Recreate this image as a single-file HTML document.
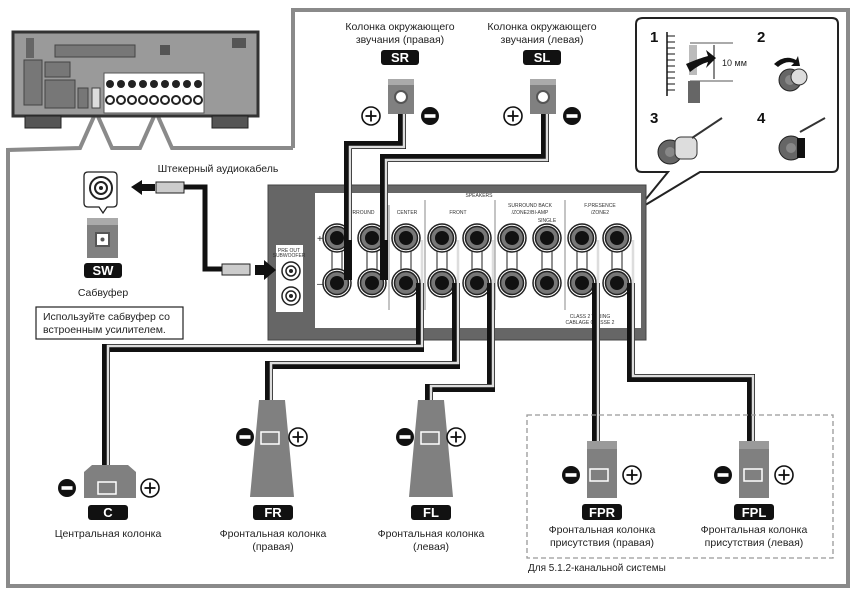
<!DOCTYPE html>
<html><head><meta charset="utf-8"><style>
html,body{margin:0;padding:0;background:#fff;}
svg{display:block;}
text{font-family:"Liberation Sans","DejaVu Sans",sans-serif;}
.lbl{font-size:10.5px;fill:#222;text-anchor:middle;}
.tag{font-size:13px;font-weight:bold;fill:#fff;text-anchor:middle;}
.sm{font-size:5px;fill:#333;text-anchor:middle;}
</style></head><body>
<svg width="857" height="592" viewBox="0 0 857 592" xmlns="http://www.w3.org/2000/svg">
<defs>
<g id="term">
<circle r="14" fill="#fff" stroke="#222" stroke-width="1.5"/>
<circle r="11.5" fill="#777" stroke="#222" stroke-width="1.5"/>
<circle r="7" fill="#111"/>
</g>
<g id="minus"><circle r="9" fill="#111"/><rect x="-5.5" y="-1.8" width="11" height="3.6" fill="#fff"/></g>
<g id="plus"><circle r="9" fill="#fff" stroke="#111" stroke-width="1.6"/><rect x="-5.5" y="-0.9" width="11" height="1.8" fill="#111"/><rect x="-0.9" y="-5.5" width="1.8" height="11" fill="#111"/></g>
</defs>

<!-- outer frame -->
<path d="M293,148 L293,10 L848,10 L848,586 L8,586 L8,150 L80,148 L96,112 L112,148 L140,148 L156,112 L172,148 L293,148" fill="none" stroke="#8a8a8a" stroke-width="4"/>

<!-- receiver -->
<rect x="13" y="32" width="245" height="84" fill="#9a9a9a" stroke="#333" stroke-width="3"/>
<rect x="25" y="116" width="36" height="12" fill="#555" stroke="#222"/>
<rect x="212" y="116" width="36" height="12" fill="#555" stroke="#222"/>
<rect x="104" y="73" width="100" height="40" fill="#fff" stroke="#555"/>
<g fill="#222">
<circle cx="110" cy="84" r="4"/><circle cx="121" cy="84" r="4"/><circle cx="132" cy="84" r="4"/><circle cx="143" cy="84" r="4"/><circle cx="154" cy="84" r="4"/><circle cx="165" cy="84" r="4"/><circle cx="176" cy="84" r="4"/><circle cx="187" cy="84" r="4"/><circle cx="198" cy="84" r="4"/>
</g>
<g fill="#fff" stroke="#222" stroke-width="2">
<circle cx="110" cy="100" r="4"/><circle cx="121" cy="100" r="4"/><circle cx="132" cy="100" r="4"/><circle cx="143" cy="100" r="4"/><circle cx="154" cy="100" r="4"/><circle cx="165" cy="100" r="4"/><circle cx="176" cy="100" r="4"/><circle cx="187" cy="100" r="4"/><circle cx="198" cy="100" r="4"/>
</g>
<rect x="26" y="38" width="8" height="20" fill="#666"/>
<rect x="55" y="45" width="80" height="12" fill="#777" stroke="#444"/>
<rect x="24" y="60" width="18" height="45" fill="#777" stroke="#444"/>
<rect x="45" y="62" width="25" height="15" fill="#777" stroke="#444"/>
<rect x="45" y="80" width="30" height="28" fill="#777" stroke="#444"/>
<rect x="78" y="88" width="10" height="20" fill="#777" stroke="#444"/>
<rect x="92" y="88" width="8" height="20" fill="#ddd" stroke="#444"/>
<rect x="160" y="45" width="10" height="10" fill="#555"/>
<rect x="232" y="38" width="14" height="10" fill="#555"/>

<!-- inset -->
<path d="M643,18 L832,18 Q838,18 838,24 L838,166 Q838,172 832,172 L700,172 L637,210 L668,172 L642,172 Q636,172 636,166 L636,24 Q636,18 643,18 Z" fill="#fff" stroke="#222" stroke-width="2"/>
<text x="650" y="42" font-size="15" font-weight="bold" fill="#111">1</text>
<text x="757" y="42" font-size="15" font-weight="bold" fill="#111">2</text>
<text x="650" y="123" font-size="15" font-weight="bold" fill="#111">3</text>
<text x="757" y="123" font-size="15" font-weight="bold" fill="#111">4</text>
<line x1="667" y1="32" x2="667" y2="96" stroke="#111" stroke-width="1.5"/>
<g stroke="#111" stroke-width="1"><line x1="667" y1="36" x2="675" y2="36"/><line x1="667" y1="42" x2="675" y2="42"/><line x1="667" y1="48" x2="675" y2="48"/><line x1="667" y1="54" x2="675" y2="54"/><line x1="667" y1="60" x2="675" y2="60"/><line x1="667" y1="66" x2="675" y2="66"/><line x1="667" y1="72" x2="675" y2="72"/><line x1="667" y1="78" x2="675" y2="78"/><line x1="667" y1="84" x2="675" y2="84"/><line x1="667" y1="90" x2="675" y2="90"/></g>
<line x1="690" y1="43" x2="733" y2="43" stroke="#555"/>
<line x1="690" y1="81" x2="733" y2="81" stroke="#555"/>
<line x1="714" y1="45" x2="714" y2="79" stroke="#111"/>
<rect x="689" y="45" width="8" height="30" fill="#bbb"/>
<rect x="688" y="81" width="12" height="22" fill="#666"/>
<path d="M686,64 Q700,58 708,56 L706,50 L716,58 L706,68 L708,62 Q700,64 690,72 Z" fill="#111"/>
<text x="722" y="66" font-size="9" fill="#222">10 мм</text>
<g transform="translate(790,80)"><circle r="11" fill="#666" stroke="#222"/><circle r="5" fill="#888"/><circle cx="9" cy="-3" r="8" fill="#ddd" stroke="#333"/></g>
<path d="M774,64 Q785,54 796,60 L798,56 L800,66 L791,66 L794,63 Q786,60 778,67 Z" fill="#111"/>
<g transform="translate(670,152)"><circle r="12" fill="#666" stroke="#222"/><circle r="5" fill="#888"/><rect x="5" y="-15" width="22" height="22" rx="6" fill="#ddd" stroke="#333"/></g>
<line x1="692" y1="138" x2="722" y2="118" stroke="#333" stroke-width="2"/>
<g transform="translate(791,148)"><circle r="12" fill="#666" stroke="#222"/><circle r="5" fill="#888"/><rect x="6" y="-10" width="8" height="20" fill="#111"/></g>
<line x1="800" y1="132" x2="825" y2="118" stroke="#333" stroke-width="2"/>
<line x1="636" y1="210" x2="630" y2="212" stroke="#222" stroke-width="2"/>

<!-- amp panel -->
<rect x="268" y="185" width="378" height="155" fill="#666" stroke="#444"/>
<rect x="315" y="193" width="326" height="135" fill="#fff"/>
<rect x="276" y="245" width="27" height="67" fill="#fff"/>
<text x="289" y="252" class="sm">PRE OUT</text>
<text x="289" y="257" class="sm">SUBWOOFER</text>
<g><circle cx="291" cy="271" r="9" fill="#fff" stroke="#222" stroke-width="1.5"/><circle cx="291" cy="271" r="5" fill="none" stroke="#222" stroke-width="1.5"/><circle cx="291" cy="271" r="2" fill="#222"/></g>
<g><circle cx="291" cy="296" r="9" fill="#fff" stroke="#222" stroke-width="1.5"/><circle cx="291" cy="296" r="5" fill="none" stroke="#222" stroke-width="1.5"/><circle cx="291" cy="296" r="2" fill="#222"/></g>
<text x="479" y="197" class="sm">SPEAKERS</text>
<text x="360" y="214" class="sm">SURROUND</text>
<text x="407" y="214" class="sm">CENTER</text>
<text x="458" y="214" class="sm">FRONT</text>
<text x="530" y="207" class="sm">SURROUND BACK</text>
<text x="530" y="214" class="sm">/ZONE2/BI-AMP</text>
<text x="547" y="222" class="sm">SINGLE</text>
<text x="600" y="207" class="sm">F.PRESENCE</text>
<text x="600" y="214" class="sm">/ZONE2</text>
<text x="590" y="318" class="sm">CLASS 2 WIRING</text>
<text x="590" y="324" class="sm">CABLAGE CLASSE 2</text>
<g stroke="#888"><line x1="389" y1="205" x2="389" y2="310"/><line x1="425" y1="200" x2="425" y2="310"/><line x1="495" y1="200" x2="495" y2="310"/><line x1="565" y1="200" x2="565" y2="310"/></g>
<text x="317" y="242" font-size="10" fill="#222">+</text>
<text x="317" y="287" font-size="10" fill="#222">–</text>
<g fill="#fff" stroke="#222">
<rect x="332" y="245" width="10" height="30"/><rect x="367" y="245" width="10" height="30"/><rect x="401" y="245" width="10" height="30"/><rect x="437" y="245" width="10" height="30"/><rect x="472" y="245" width="10" height="30"/><rect x="507" y="245" width="10" height="30"/><rect x="542" y="245" width="10" height="30"/><rect x="577" y="245" width="10" height="30"/><rect x="612" y="245" width="10" height="30"/>
</g>
<use href="#term" x="337" y="238"/><use href="#term" x="372" y="238"/><use href="#term" x="406" y="238"/><use href="#term" x="442" y="238"/><use href="#term" x="477" y="238"/><use href="#term" x="512" y="238"/><use href="#term" x="547" y="238"/><use href="#term" x="582" y="238"/><use href="#term" x="617" y="238"/>
<use href="#term" x="337" y="283"/><use href="#term" x="372" y="283"/><use href="#term" x="406" y="283"/><use href="#term" x="442" y="283"/><use href="#term" x="477" y="283"/><use href="#term" x="512" y="283"/><use href="#term" x="547" y="283"/><use href="#term" x="582" y="283"/><use href="#term" x="617" y="283"/>

<!-- cables -->
<g fill="none" stroke-linejoin="miter">
<g stroke="#111" stroke-width="8">
<path d="M402,112 L402,145 L348,145 L348,280"/>
<path d="M545,112 L545,158 L384,158 L384,280"/>
<path d="M420,283 L420,348 L106,348 L106,488"/>
<path d="M456,283 L456,365 L269,365 L269,437"/>
<path d="M491,283 L491,388 L429,388 L429,437"/>
<path d="M596,283 L596,488"/>
<path d="M631,283 L631,378 L751,378 L751,488"/>
</g>
<g stroke="#ddd" stroke-width="2.5">
<path d="M404,112 L404,147 L350,147 L350,240"/>
<path d="M547,112 L547,160 L386,160 L386,240"/>
<path d="M422,240 L422,346 L108,346 L108,488"/>
<path d="M458,240 L458,363 L271,363 L271,437"/>
<path d="M493,240 L493,386 L431,386 L431,437"/>
<path d="M598,240 L598,488"/>
<path d="M633,240 L633,376 L753,376 L753,488"/>
</g>
</g>

<!-- top speakers -->
<text x="400" y="30" class="lbl">Колонка окружающего</text>
<text x="400" y="43" class="lbl">звучания (правая)</text>
<rect x="381" y="50" width="38" height="15" rx="3" fill="#111"/><text x="400" y="62" class="tag">SR</text>
<rect x="388" y="79" width="26" height="35" fill="#808080"/><rect x="388" y="79" width="26" height="6" fill="#aaa"/>
<circle cx="401" cy="97" r="6" fill="#fff" stroke="#555" stroke-width="2"/>
<use href="#plus" x="371" y="116"/><use href="#minus" x="430" y="116"/>

<text x="542" y="30" class="lbl">Колонка окружающего</text>
<text x="542" y="43" class="lbl">звучания (левая)</text>
<rect x="523" y="50" width="38" height="15" rx="3" fill="#111"/><text x="542" y="62" class="tag">SL</text>
<rect x="530" y="79" width="26" height="35" fill="#808080"/><rect x="530" y="79" width="26" height="6" fill="#aaa"/>
<circle cx="543" cy="97" r="6" fill="#fff" stroke="#555" stroke-width="2"/>
<use href="#plus" x="513" y="116"/><use href="#minus" x="572" y="116"/>

<!-- subwoofer -->
<text x="218" y="172" class="lbl">Штекерный аудиокабель</text>
<path d="M88,172 L113,172 Q117,172 117,176 L117,203 Q117,207 113,207 L107,207 L103,213 L99,207 L88,207 Q84,207 84,203 L84,176 Q84,172 88,172 Z" fill="#fff" stroke="#222" stroke-width="1.3"/>
<circle cx="101" cy="188" r="11" fill="#fff" stroke="#222" stroke-width="2"/><circle cx="101" cy="188" r="6" fill="none" stroke="#222" stroke-width="2"/><circle cx="101" cy="188" r="2" fill="#222"/>
<path d="M131,187 L142,180 L142,184 L155,184 L155,191 L142,191 L142,195 Z" fill="#111"/>
<rect x="156" y="182" width="28" height="11" fill="#ccc" stroke="#222"/>
<path d="M184,187 L205,187 L205,269 L222,269" fill="none" stroke="#111" stroke-width="5"/>
<rect x="222" y="264" width="28" height="11" fill="#ccc" stroke="#222"/>
<path d="M255,265 L264,265 L264,260 L276,270 L264,280 L264,275 L255,275 Z" fill="#111"/>
<rect x="87" y="218" width="31" height="40" fill="#808080"/><rect x="87" y="218" width="31" height="7" fill="#aaa"/>
<rect x="96" y="233" width="13" height="13" fill="#fff" stroke="#555" stroke-width="2"/><circle cx="102.5" cy="239.5" r="2" fill="#555"/>
<rect x="84" y="263" width="38" height="15" rx="3" fill="#111"/><text x="103" y="275" class="tag">SW</text>
<text x="103" y="296" class="lbl">Сабвуфер</text>
<rect x="36" y="307" width="147" height="32" fill="#fff" stroke="#222" stroke-width="1.2"/>
<text x="43" y="320" font-size="10.5" fill="#222">Используйте сабвуфер со</text>
<text x="43" y="333" font-size="10.5" fill="#222">встроенным усилителем.</text>

<!-- center -->
<path d="M84,472 L92,465 L128,465 L136,472 L136,498 L84,498 Z" fill="#808080"/>
<rect x="98" y="482" width="18" height="12" fill="none" stroke="#fff" stroke-width="1.5"/>
<use href="#minus" x="67" y="488"/><use href="#plus" x="150" y="488"/>
<rect x="88" y="505" width="40" height="15" rx="3" fill="#111"/><text x="108" y="517" class="tag">C</text>
<text x="108" y="537" class="lbl">Центральная колонка</text>

<!-- FR -->
<path d="M259,400 L285,400 L294,497 L250,497 Z" fill="#808080"/>
<rect x="261" y="432" width="18" height="12" fill="none" stroke="#fff" stroke-width="1.5"/>
<use href="#minus" x="245" y="437"/><use href="#plus" x="298" y="437"/>
<rect x="253" y="505" width="40" height="15" rx="3" fill="#111"/><text x="273" y="517" class="tag">FR</text>
<text x="273" y="537" class="lbl">Фронтальная колонка</text>
<text x="273" y="550" class="lbl">(правая)</text>

<!-- FL -->
<path d="M418,400 L444,400 L453,497 L409,497 Z" fill="#808080"/>
<rect x="421" y="432" width="18" height="12" fill="none" stroke="#fff" stroke-width="1.5"/>
<use href="#minus" x="405" y="437"/><use href="#plus" x="456" y="437"/>
<rect x="411" y="505" width="40" height="15" rx="3" fill="#111"/><text x="431" y="517" class="tag">FL</text>
<text x="431" y="537" class="lbl">Фронтальная колонка</text>
<text x="431" y="550" class="lbl">(левая)</text>

<!-- presence -->
<rect x="527" y="415" width="306" height="143" fill="none" stroke="#999" stroke-width="1.3" stroke-dasharray="5,3"/>
<rect x="587" y="441" width="30" height="57" fill="#808080"/><rect x="587" y="441" width="30" height="8" fill="#9a9a9a"/>
<rect x="590" y="469" width="18" height="12" fill="none" stroke="#fff" stroke-width="1.5"/>
<use href="#minus" x="571" y="475"/><use href="#plus" x="632" y="475"/>
<rect x="582" y="504" width="40" height="16" rx="3" fill="#111"/><text x="602" y="517" class="tag">FPR</text>
<text x="602" y="533" class="lbl">Фронтальная колонка</text>
<text x="602" y="546" class="lbl">присутствия (правая)</text>
<rect x="739" y="441" width="30" height="57" fill="#808080"/><rect x="739" y="441" width="30" height="8" fill="#9a9a9a"/>
<rect x="744" y="469" width="18" height="12" fill="none" stroke="#fff" stroke-width="1.5"/>
<use href="#minus" x="723" y="475"/><use href="#plus" x="784" y="475"/>
<rect x="734" y="504" width="40" height="16" rx="3" fill="#111"/><text x="754" y="517" class="tag">FPL</text>
<text x="754" y="533" class="lbl">Фронтальная колонка</text>
<text x="754" y="546" class="lbl">присутствия (левая)</text>
<text x="528" y="571" font-size="10" fill="#222">Для 5.1.2-канальной системы</text>
</svg>
</body></html>
